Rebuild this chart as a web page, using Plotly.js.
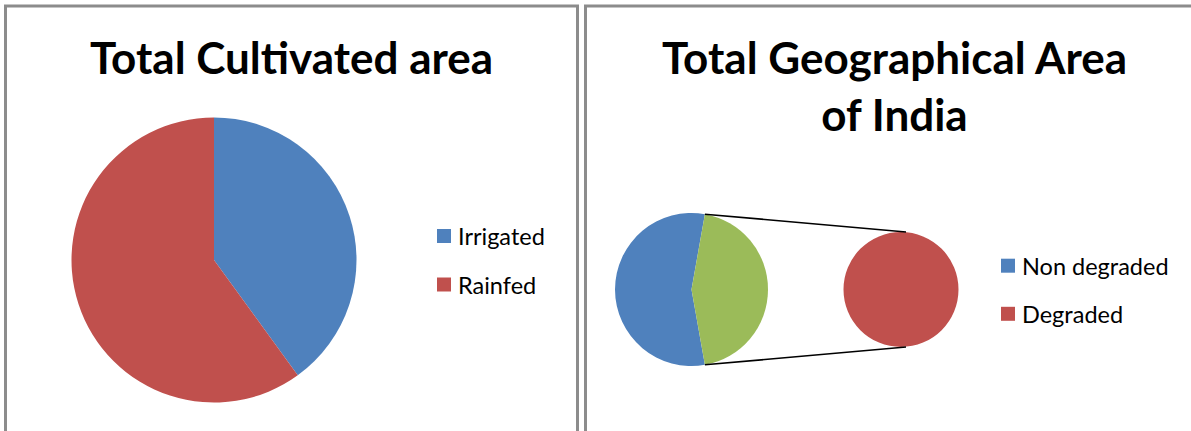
<!DOCTYPE html>
<html>
<head>
<meta charset="utf-8">
<script src="https://cdn.plot.ly/plotly-3.0.1.min.js"></script>
<style>
  html, body { margin: 0; padding: 0; background: #ffffff; }
  #chart { width: 1191px; height: 431px; }
</style>
</head>
<body>
<div id="chart"></div>
<script>
// ---------- data ----------
const cultivatedTitle = 'Total Cultivated area';
const cultivatedLabels = ['Irrigated', 'Rainfed'];
const cultivatedValues = [40, 60];

const geoTitle = 'Total Geographical Area<br>of India';
const geoLabels = ['Non degraded', 'Degraded'];
const geoValues = [55.6, 44.4];

// ---------- style ----------
const W = 1191, H = 431;
const BLUE = '#4F81BD', RED = '#C0504D', GREEN = '#9BBB59';
const FONT = 'Lato, "Open Sans", sans-serif';

const px = x => x / W;
const py = y => 1 - y / H;
function domainFor(cx, cy, r) {
  return { x: [px(cx - r), px(cx + r)], y: [py(cy + r), py(cy - r)] };
}

// pie geometry (pixels)
const left = { cx: 214, cy: 260, r: 142.5 };
const main = { cx: 691.5, cy: 289.5, r: 76.5 };
const sec  = { cx: 901, cy: 289.5, r: 57.5 };

const total = geoValues.reduce((a, b) => a + b, 0);
const fracDeg = geoValues[1] / total;
// degraded wedge of the main pie is centred on 3 o'clock
const mainRotation = 90 + fracDeg * 180;

const traces = [
  {
    type: 'pie',
    labels: cultivatedLabels,
    values: cultivatedValues,
    marker: { colors: [BLUE, RED], line: { width: 0 } },
    sort: false,
    direction: 'clockwise',
    rotation: 0,
    textinfo: 'none',
    hoverinfo: 'label+value',
    showlegend: false,
    domain: domainFor(left.cx, left.cy, left.r)
  },
  {
    type: 'pie',
    labels: geoLabels,
    values: geoValues,
    marker: { colors: [BLUE, GREEN], line: { width: 0 } },
    sort: false,
    direction: 'clockwise',
    rotation: mainRotation,
    textinfo: 'none',
    hoverinfo: 'label+value',
    showlegend: false,
    domain: domainFor(main.cx, main.cy, main.r)
  },
  {
    type: 'pie',
    labels: [geoLabels[1]],
    values: [geoValues[1]],
    marker: { colors: [RED], line: { width: 0 } },
    sort: false,
    textinfo: 'none',
    hoverinfo: 'label+value',
    showlegend: false,
    domain: domainFor(sec.cx, sec.cy, sec.r)
  }
];

// connector lines from the degraded wedge edges to the secondary pie
const a0 = (90 - fracDeg * 180) * Math.PI / 180;
const a1 = (90 + fracDeg * 180) * Math.PI / 180;
const p0 = [main.cx + main.r * Math.sin(a0), main.cy - main.r * Math.cos(a0)];
const p1 = [main.cx + main.r * Math.sin(a1), main.cy - main.r * Math.cos(a1)];

const shapes = [
  { type: 'rect', xref: 'paper', yref: 'paper', x0: px(5.5), x1: px(577.5), y0: py(434), y1: py(6),
    line: { color: '#8c8c8c', width: 3 } },
  { type: 'rect', xref: 'paper', yref: 'paper', x0: px(585.5), x1: px(1205), y0: py(434), y1: py(6),
    line: { color: '#8c8c8c', width: 3 } },
  { type: 'line', xref: 'paper', yref: 'paper', x0: px(p0[0]), y0: py(p0[1]), x1: px(sec.cx + 5), y1: py(sec.cy - sec.r),
    line: { color: '#000000', width: 1.6 } },
  { type: 'line', xref: 'paper', yref: 'paper', x0: px(p1[0]), y0: py(p1[1]), x1: px(sec.cx + 5), y1: py(sec.cy + sec.r),
    line: { color: '#000000', width: 1.6 } }
];

const annotations = [
  { text: cultivatedTitle, xref: 'paper', yref: 'paper', x: px(291.5), y: py(57),
    xanchor: 'center', yanchor: 'middle', showarrow: false,
    font: { family: FONT, size: 44, color: '#000000', weight: 700 } },
  { text: geoTitle, xref: 'paper', yref: 'paper', x: px(894.5), y: py(85.5),
    xanchor: 'center', yanchor: 'middle', showarrow: false,
    font: { family: FONT, size: 44, color: '#000000', weight: 700 } }
];

// legends
function addLegend(labels, colors, sqX, yCenters) {
  labels.forEach((lab, i) => {
    shapes.push({ type: 'rect', xref: 'paper', yref: 'paper',
      x0: px(sqX), x1: px(sqX + 14), y0: py(yCenters[i] + 7), y1: py(yCenters[i] - 7),
      fillcolor: colors[i], line: { width: 0 } });
    annotations.push({ text: lab, xref: 'paper', yref: 'paper', x: px(sqX + 19), y: py(yCenters[i]),
      xanchor: 'left', yanchor: 'middle', showarrow: false,
      font: { family: FONT, size: 23.5, color: '#000000' } });
  });
}
addLegend(cultivatedLabels, [BLUE, RED], 437, [236, 284.5]);
addLegend(geoLabels, [BLUE, RED], 1001, [265.7, 313.8]);

const layout = {
  width: W, height: H,
  margin: { l: 0, r: 0, t: 0, b: 0 },
  paper_bgcolor: '#ffffff',
  showlegend: false,
  shapes: shapes,
  annotations: annotations
};

Plotly.newPlot('chart', traces, layout, { displayModeBar: false, staticPlot: true });
</script>
</body>
</html>
